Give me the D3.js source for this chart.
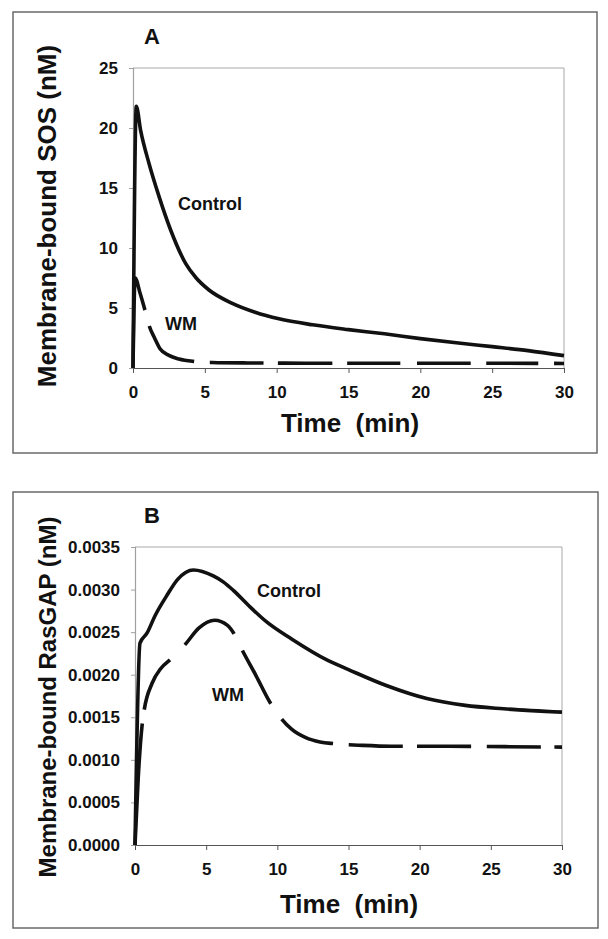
<!DOCTYPE html>
<html>
<head>
<meta charset="utf-8">
<script src="https://cdn.jsdelivr.net/npm/d3@7"></script>
<style>
  html, body { margin: 0; padding: 0; background: #fff; }
  svg { display: block; font-family: Arial, "Liberation Sans", Helvetica, sans-serif; }
</style>
</head>
<body>
<svg id="chart" width="608" height="939"></svg>
<script>
// ---------- Data ----------
// Panel A: Membrane-bound SOS (nM) vs time (min)
const timeA_control = [0, 0.23, 0.53, 1.11, 1.81, 2.62, 3.67, 4.4, 5.29, 6.91, 8.5, 10.16, 12.5, 15, 17.5, 20, 22.5, 25, 27.5, 30];
const sosControl    = [0, 21.8, 19.8, 17.06, 14.3, 11.5, 8.7, 7.5, 6.5, 5.39, 4.65, 4.1, 3.6, 3.2, 2.85, 2.45, 2.1, 1.78, 1.45, 1.03];
const timeA_wm      = [0, 0.15, 0.5, 0.83, 1.13, 1.5, 1.88, 2.5, 3.2, 4.2, 5.5, 8, 12, 20, 30];
const sosWM         = [0, 7.5, 6.2, 4.83, 3.5, 2.5, 1.6, 1.05, 0.75, 0.55, 0.46, 0.42, 0.4, 0.4, 0.38];

// Panel B: Membrane-bound RasGAP (nM) vs time (min)
const timeB_control = [0, 0.35, 0.85, 1.4, 2.2, 3.0, 4.1, 5.5, 6.2, 6.91, 8.0, 9.25, 11, 13.58, 15, 17.7, 20.5, 23.2, 25.9, 30];
const gapControl    = [0, 0.00237, 0.00249, 0.00269, 0.00292, 0.00312, 0.00323, 0.00316, 0.00309, 0.00299, 0.00281, 0.00262, 0.00242, 0.002165, 0.00206, 0.00187, 0.00172, 0.00164, 0.0016, 0.00156];
const timeB_wm      = [0, 0.23, 0.5, 0.65, 1.2, 1.8, 2.5, 3.5, 4.5, 5.6, 6.5, 7.0, 7.5, 8.5, 9.5, 10.3, 11, 12, 13, 14, 16, 18, 22, 26, 30];
const gapWM         = [0, 0.0008, 0.00141, 0.00159, 0.0019, 0.00207, 0.00218, 0.00235, 0.00255, 0.00264, 0.00258, 0.00247, 0.0023, 0.00199, 0.00167, 0.00148, 0.00136, 0.00126, 0.00121, 0.00119, 0.00117, 0.00116, 0.00116, 0.001155, 0.00115];

// Axis ticks
const xTicks  = [0, 5, 10, 15, 20, 25, 30];
const yTicksA = [0, 5, 10, 15, 20, 25];
const yTicksB = [0, 0.0005, 0.001, 0.0015, 0.002, 0.0025, 0.003, 0.0035];

// Dash gaps of the WM line (start/end time of each gap, line style as in the reference)
const wmGapsA = [[0.83, 1.13], [4.25, 5.34], [9.08, 10.08], [13.87, 14.9], [18.6, 19.76], [23.5, 24.58], [28.2, 29.3]];
const wmGapsB = [[0.51, 0.65], [2.46, 3.5], [6.96, 7.54], [9.53, 10.3], [13.9, 15.0], [18.8, 19.8], [23.6, 24.7], [28.5, 29.45]];

// Text
const panelLabels = ["A", "B"];
const yTitles = ["Membrane-bound SOS (nM)", "Membrane-bound RasGAP (nM)"];
const xTitle = "Time  (min)";
const seriesNames = ["Control", "WM"];

// ---------- Drawing ----------
const svg = d3.select("#chart");

const panels = [
  {
    box: {x: 13, y: 12, w: 584, h: 441},
    plot: {l: 133, r: 564, t: 68, b: 368},
    yMax: 25, yTicks: yTicksA, yFmt: d3.format("d"),
    label: panelLabels[0], labelPos: [144, 44],
    yTitle: yTitles[0], yTitleSize: 26, yTitlePos: [47, 216],
    xTitlePos: [350, 432],
    control: {t: timeA_control, v: sosControl},
    wm: {t: timeA_wm, v: sosWM}, gaps: wmGapsA,
    ctrlLabel: [178, 210], wmLabel: [165, 330]
  },
  {
    box: {x: 13, y: 492, w: 585, h: 436},
    plot: {l: 135, r: 562, t: 547, b: 845},
    yMax: 0.0035, yTicks: yTicksB, yFmt: d3.format(".4f"),
    label: panelLabels[1], labelPos: [144, 523],
    yTitle: yTitles[1], yTitleSize: 24, yTitlePos: [47, 697],
    xTitlePos: [349, 913],
    control: {t: timeB_control, v: gapControl},
    wm: {t: timeB_wm, v: gapWM}, gaps: wmGapsB,
    ctrlLabel: [257, 597], wmLabel: [212, 701]
  }
];

// length along a path (x monotone) at which the path reaches screen x = xp
function lengthAtX(node, xp) {
  let lo = 0, hi = node.getTotalLength();
  for (let k = 0; k < 40; k++) {
    const mid = (lo + hi) / 2;
    if (node.getPointAtLength(mid).x < xp) lo = mid; else hi = mid;
  }
  return (lo + hi) / 2;
}

panels.forEach(p => {
  const g = svg.append("g");

  // outer panel frame
  g.append("rect")
    .attr("x", p.box.x).attr("y", p.box.y)
    .attr("width", p.box.w).attr("height", p.box.h)
    .attr("fill", "none").attr("stroke", "#6a6a6a").attr("stroke-width", 1.5);

  const x = d3.scaleLinear().domain([0, 30]).range([p.plot.l, p.plot.r]);
  const y = d3.scaleLinear().domain([0, p.yMax]).range([p.plot.b, p.plot.t]);

  // plot area top & right border (gray)
  g.append("path")
    .attr("d", `M${p.plot.l},${p.plot.t}H${p.plot.r}V${p.plot.b}`)
    .attr("fill", "none").attr("stroke", "#a8a8a8").attr("stroke-width", 1);

  // y axis
  const yAxis = g.append("g")
    .attr("transform", `translate(${p.plot.l},0)`)
    .call(d3.axisLeft(y).tickValues(p.yTicks).tickFormat(p.yFmt).tickSize(4).tickPadding(11));
  yAxis.select(".domain").attr("stroke", "#a0a0a0").attr("stroke-width", 1.2);
  yAxis.selectAll(".tick line").attr("stroke", "#a0a0a0");
  yAxis.selectAll(".tick text")
    .attr("fill", "#111").attr("font-size", 17).attr("font-weight", "bold")
    .attr("font-family", "Arial, 'Liberation Sans', sans-serif");

  // x axis
  const xAxis = g.append("g")
    .attr("transform", `translate(0,${p.plot.b})`)
    .call(d3.axisBottom(x).tickValues(xTicks).tickFormat(d3.format("d")).tickSize(5).tickPadding(13));
  xAxis.select(".domain").attr("stroke", "#555").attr("stroke-width", 1);
  xAxis.selectAll(".tick line").attr("stroke", "#555");
  xAxis.selectAll(".tick text")
    .attr("fill", "#111").attr("font-size", 17).attr("font-weight", "bold")
    .attr("font-family", "Arial, 'Liberation Sans', sans-serif");

  const line = d3.line()
    .x(d => x(d[0])).y(d => y(d[1]))
    .curve(d3.curveMonotoneX);

  const ctrlData = p.control.t.map((t, i) => [t, p.control.v[i]]);
  const wmData = p.wm.t.map((t, i) => [t, p.wm.v[i]]);

  const wmPath = g.append("path")
    .datum(wmData)
    .attr("d", line)
    .attr("fill", "none").attr("stroke", "#111").attr("stroke-width", 3.6);

  // build dash pattern from the gap list
  const node = wmPath.node();
  const total = node.getTotalLength();
  const dashes = [];
  let pos = 0;
  p.gaps.forEach(([a, b]) => {
    const la = lengthAtX(node, x(a)), lb = lengthAtX(node, x(b));
    dashes.push(Math.max(0, la - pos), Math.max(0, lb - la));
    pos = lb;
  });
  dashes.push(Math.max(0, total - pos) + 5, 1000);
  wmPath.attr("stroke-dasharray", dashes.map(d => d.toFixed(2)).join(","));

  g.append("path")
    .datum(ctrlData)
    .attr("d", line)
    .attr("fill", "none").attr("stroke", "#111").attr("stroke-width", 3.6)
    .attr("stroke-linejoin", "round");

  // series labels
  g.append("text").attr("x", p.ctrlLabel[0]).attr("y", p.ctrlLabel[1])
    .attr("font-size", 18).attr("font-weight", "bold").attr("fill", "#111")
    .text(seriesNames[0]);
  g.append("text").attr("x", p.wmLabel[0]).attr("y", p.wmLabel[1])
    .attr("font-size", 18).attr("font-weight", "bold").attr("fill", "#111")
    .text(seriesNames[1]);

  // panel letter
  g.append("text").attr("x", p.labelPos[0]).attr("y", p.labelPos[1])
    .attr("font-size", 22).attr("font-weight", "bold").attr("fill", "#111")
    .text(p.label);

  // y title
  g.append("text")
    .attr("transform", `translate(${p.yTitlePos[0]},${p.yTitlePos[1]}) rotate(-90)`)
    .attr("text-anchor", "middle").attr("dominant-baseline", "central")
    .attr("font-size", p.yTitleSize).attr("font-weight", "bold").attr("fill", "#111")
    .text(p.yTitle);

  // x title
  g.append("text")
    .attr("x", p.xTitlePos[0]).attr("y", p.xTitlePos[1])
    .attr("text-anchor", "middle")
    .style("white-space", "pre")
    .attr("font-size", 26).attr("font-weight", "bold").attr("fill", "#111")
    .text(xTitle);
});
</script>
</body>
</html>
